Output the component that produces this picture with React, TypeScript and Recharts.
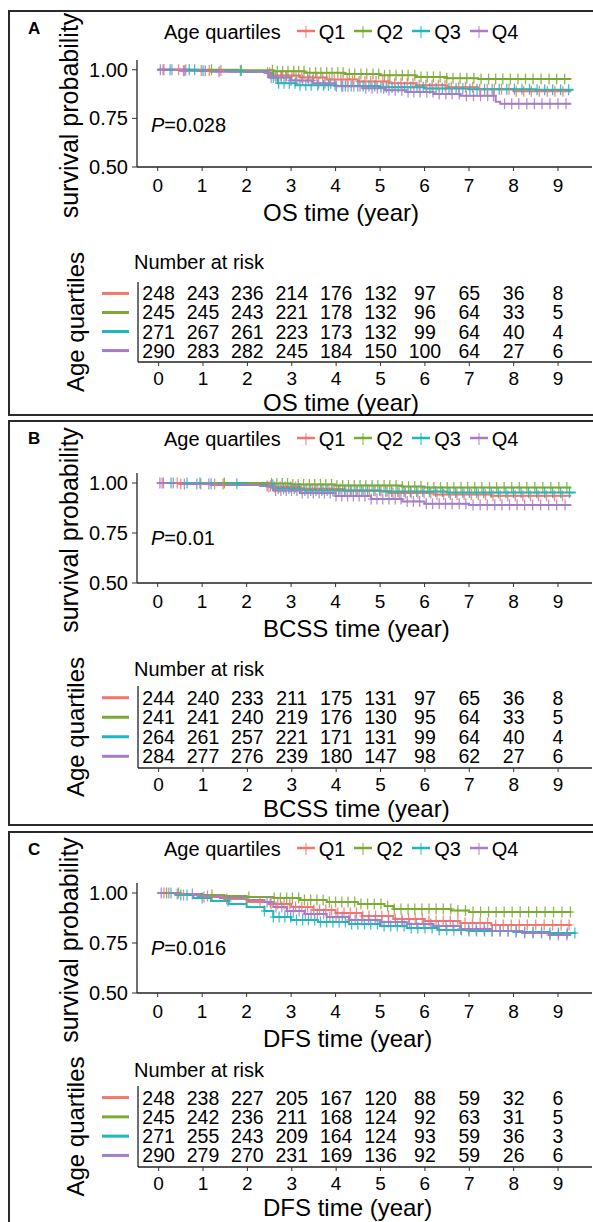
import React from 'react'
import { ComposedChart, Line, Scatter, XAxis, YAxis } from 'recharts'

// Kaplan-Meier curves by age quartile, three endpoints (OS, BCSS, DFS)

const GROUPS = ['Q1', 'Q2', 'Q3', 'Q4']
const COLORS = ['#F3766D', '#7AAA33', '#1DB7BD', '#A67DC6']
const TIME_TICKS = [0, 1, 2, 3, 4, 5, 6, 7, 8, 9]
const SURV_TICKS = [0.5, 0.75, 1]

// ---- OS ----
const OS_Q1_STEPS = [[0, 1], [0.7, 0.996], [1.6, 0.99], [2.45, 0.985], [2.6, 0.97], [3.2, 0.96], [3.8, 0.95], [4.5, 0.94], [5.2, 0.93], [5.8, 0.92], [6.5, 0.91], [7.2, 0.9], [8.0, 0.89], [9.3, 0.89]]
const OS_Q2_STEPS = [[0, 1], [1.8, 0.997], [2.6, 0.992], [3.3, 0.985], [4.2, 0.978], [5.0, 0.971], [5.8, 0.963], [6.5, 0.956], [7.2, 0.952], [9.3, 0.952]]
const OS_Q3_STEPS = [[0, 1], [0.9, 0.995], [1.9, 0.99], [2.5, 0.96], [2.7, 0.93], [3.1, 0.92], [4.0, 0.916], [5.0, 0.91], [6.0, 0.904], [7.0, 0.9], [8.5, 0.897], [9.35, 0.897]]
const OS_Q4_STEPS = [[0, 1], [0.5, 0.995], [1.2, 0.99], [2.4, 0.985], [2.55, 0.96], [3.0, 0.945], [3.5, 0.93], [4.0, 0.915], [4.6, 0.905], [5.1, 0.895], [5.6, 0.885], [6.2, 0.875], [6.8, 0.866], [7.6, 0.835], [7.7, 0.825], [9.3, 0.825]]

const OS_Q1_CENS = [0.12, 0.47, 0.63, 0.98, 1.16, 1.42, 2.52, 2.64, 2.77, 2.9, 3.02, 3.11, 3.24, 3.37, 3.5, 3.58, 3.71, 3.86, 3.97, 4.12, 4.26, 4.38, 4.53, 4.66, 4.79, 4.91, 5.06, 5.18, 5.33, 5.47, 5.61, 5.74, 5.88, 6.03, 6.17, 6.31, 6.46, 6.6, 6.77, 6.92, 7.08, 7.24, 7.41, 7.57, 7.73, 7.9, 8.06, 8.23, 8.4, 8.58, 8.76, 8.93, 9.11]
const OS_Q2_CENS = [1.21, 1.88, 2.58, 2.69, 2.81, 2.93, 3.06, 3.17, 3.29, 3.42, 3.55, 3.67, 3.8, 3.92, 4.05, 4.17, 4.31, 4.43, 4.57, 4.7, 4.84, 4.97, 5.1, 5.22, 5.36, 5.5, 5.63, 5.78, 5.92, 6.06, 6.2, 6.35, 6.5, 6.64, 6.8, 6.95, 7.11, 7.27, 7.44, 7.6, 7.76, 7.93, 8.1, 8.27, 8.44, 8.62, 8.8, 8.97, 9.15]
const OS_Q3_CENS = [0.28, 0.71, 0.83, 1.02, 1.86, 2.6, 2.72, 2.84, 2.96, 3.09, 3.2, 3.33, 3.45, 3.6, 3.73, 3.84, 3.99, 4.14, 4.22, 4.35, 4.5, 4.62, 4.75, 4.88, 5.02, 5.14, 5.27, 5.41, 5.55, 5.69, 5.83, 5.97, 6.12, 6.26, 6.4, 6.55, 6.71, 6.86, 7.02, 7.18, 7.35, 7.52, 7.68, 7.85, 8.02, 8.19, 8.36, 8.53, 8.7, 8.88, 9.06, 9.24]
const OS_Q4_CENS = [0.06, 0.14, 0.32, 0.58, 0.61, 1.07, 1.38, 2.47, 2.55, 2.66, 2.78, 2.88, 3.0, 3.13, 3.26, 3.39, 3.48, 3.62, 3.76, 3.89, 4.02, 4.16, 4.28, 4.41, 4.55, 4.68, 4.82, 4.94, 5.08, 5.2, 5.34, 5.49, 5.63, 5.76, 5.9, 6.05, 6.19, 6.33, 6.48, 6.62, 6.78, 6.94, 7.1, 7.26, 7.42, 7.55, 7.8, 7.96, 8.12, 8.3, 8.47, 8.64, 8.82, 9.0, 9.18]

const OS_RISK_Q1 = [248, 243, 236, 214, 176, 132, 97, 65, 36, 8]
const OS_RISK_Q2 = [245, 245, 243, 221, 178, 132, 96, 64, 33, 5]
const OS_RISK_Q3 = [271, 267, 261, 223, 173, 132, 99, 64, 40, 4]
const OS_RISK_Q4 = [290, 283, 282, 245, 184, 150, 100, 64, 27, 6]

// ---- BCSS ----
const BCSS_Q1_STEPS = [[0, 1], [0.5, 0.995], [1.5, 0.99], [2.5, 0.98], [3.2, 0.97], [4.2, 0.96], [5.2, 0.95], [6.2, 0.942], [7.5, 0.936], [9.3, 0.936]]
const BCSS_Q2_STEPS = [[0, 1], [2.5, 0.998], [3.0, 0.993], [4.0, 0.988], [5.5, 0.982], [6.0, 0.977], [9.3, 0.977]]
const BCSS_Q3_STEPS = [[0, 1], [1.0, 0.996], [2.0, 0.99], [2.6, 0.972], [3.3, 0.963], [5.0, 0.957], [6.5, 0.952], [9.4, 0.952]]
const BCSS_Q4_STEPS = [[0, 1], [0.5, 0.995], [1.2, 0.99], [2.3, 0.985], [2.6, 0.962], [3.2, 0.95], [4.0, 0.935], [4.8, 0.92], [5.5, 0.908], [6.0, 0.896], [7.0, 0.89], [9.3, 0.89]]

const BCSS_Q1_CENS = [0.1, 0.44, 0.52, 0.97, 1.28, 1.47, 2.5, 2.63, 2.75, 2.87, 2.99, 3.1, 3.23, 3.35, 3.48, 3.6, 3.72, 3.85, 3.98, 4.1, 4.23, 4.36, 4.49, 4.62, 4.76, 4.89, 5.02, 5.16, 5.29, 5.43, 5.57, 5.7, 5.85, 5.99, 6.14, 6.28, 6.43, 6.58, 6.73, 6.89, 7.05, 7.21, 7.37, 7.54, 7.7, 7.87, 8.04, 8.21, 8.38, 8.56, 8.74, 8.92, 9.1]
const BCSS_Q2_CENS = [1.5, 2.56, 2.68, 2.8, 2.92, 3.04, 3.16, 3.28, 3.41, 3.53, 3.66, 3.78, 3.91, 4.03, 4.16, 4.29, 4.42, 4.55, 4.68, 4.82, 4.95, 5.09, 5.22, 5.36, 5.5, 5.64, 5.78, 5.92, 6.07, 6.21, 6.36, 6.51, 6.66, 6.82, 6.97, 7.13, 7.29, 7.46, 7.62, 7.79, 7.96, 8.13, 8.3, 8.48, 8.66, 8.84, 9.02, 9.2]
const BCSS_Q3_CENS = [0.3, 0.66, 0.95, 1.2, 1.78, 2.59, 2.71, 2.83, 2.95, 3.07, 3.19, 3.31, 3.44, 3.56, 3.69, 3.81, 3.94, 4.07, 4.2, 4.33, 4.46, 4.59, 4.72, 4.86, 4.99, 5.13, 5.26, 5.4, 5.54, 5.68, 5.82, 5.96, 6.11, 6.25, 6.4, 6.55, 6.7, 6.86, 7.01, 7.17, 7.33, 7.5, 7.66, 7.83, 8.0, 8.17, 8.34, 8.52, 8.7, 8.88, 9.06, 9.26]
const BCSS_Q4_CENS = [0.05, 0.13, 0.35, 0.6, 0.88, 1.15, 2.46, 2.54, 2.65, 2.77, 2.89, 3.01, 3.13, 3.25, 3.38, 3.5, 3.63, 3.75, 3.88, 4.01, 4.14, 4.27, 4.4, 4.53, 4.66, 4.8, 4.93, 5.06, 5.2, 5.34, 5.47, 5.61, 5.75, 5.89, 6.04, 6.18, 6.33, 6.47, 6.62, 6.78, 6.93, 7.09, 7.25, 7.41, 7.58, 7.74, 7.91, 8.08, 8.25, 8.43, 8.61, 8.79, 8.97, 9.16]

const BCSS_RISK_Q1 = [244, 240, 233, 211, 175, 131, 97, 65, 36, 8]
const BCSS_RISK_Q2 = [241, 241, 240, 219, 176, 130, 95, 64, 33, 5]
const BCSS_RISK_Q3 = [264, 261, 257, 221, 171, 131, 99, 64, 40, 4]
const BCSS_RISK_Q4 = [284, 277, 276, 239, 180, 147, 98, 62, 27, 6]

// ---- DFS ----
const DFS_Q1_STEPS = [[0, 1], [0.5, 0.99], [1.0, 0.98], [1.5, 0.97], [2.0, 0.955], [2.5, 0.945], [3.0, 0.93], [3.5, 0.915], [4.0, 0.9], [4.6, 0.885], [5.3, 0.87], [6.0, 0.86], [6.8, 0.85], [7.5, 0.84], [9.3, 0.84]]
const DFS_Q2_STEPS = [[0, 1], [0.5, 0.995], [1.0, 0.99], [1.5, 0.985], [2.0, 0.98], [2.6, 0.975], [3.2, 0.965], [3.8, 0.955], [4.5, 0.945], [5.1, 0.935], [5.3, 0.92], [6.6, 0.912], [7.0, 0.905], [9.3, 0.905]]
const DFS_Q3_STEPS = [[0, 1], [0.4, 0.99], [0.8, 0.975], [1.2, 0.96], [1.6, 0.945], [2.0, 0.93], [2.4, 0.91], [2.6, 0.88], [3.0, 0.865], [3.6, 0.855], [4.3, 0.845], [5.0, 0.835], [5.6, 0.825], [6.3, 0.815], [7.0, 0.81], [8.0, 0.805], [8.8, 0.8], [9.4, 0.8]]
const DFS_Q4_STEPS = [[0, 1], [0.4, 0.995], [0.9, 0.985], [1.4, 0.975], [2.0, 0.965], [2.4, 0.955], [2.6, 0.93], [2.9, 0.91], [3.3, 0.895], [3.8, 0.88], [4.3, 0.865], [5.0, 0.855], [5.6, 0.845], [6.2, 0.835], [6.8, 0.82], [7.5, 0.81], [8.2, 0.8], [8.8, 0.79], [9.3, 0.79]]

const DFS_Q1_CENS = [0.14, 0.58, 1.04, 1.55, 2.3, 2.55, 2.7, 2.84, 2.97, 3.1, 3.24, 3.37, 3.51, 3.64, 3.78, 3.91, 4.05, 4.19, 4.33, 4.47, 4.61, 4.75, 4.9, 5.04, 5.19, 5.34, 5.49, 5.64, 5.79, 5.95, 6.1, 6.26, 6.42, 6.58, 6.75, 6.91, 7.08, 7.25, 7.42, 7.6, 7.77, 7.95, 8.13, 8.31, 8.5, 8.69, 8.88, 9.07, 9.25]
const DFS_Q2_CENS = [0.2, 0.47, 1.22, 2.05, 2.62, 2.76, 2.9, 3.03, 3.17, 3.3, 3.44, 3.58, 3.72, 3.86, 4.0, 4.14, 4.28, 4.43, 4.57, 4.72, 4.87, 5.02, 5.17, 5.32, 5.47, 5.63, 5.78, 5.94, 6.1, 6.26, 6.42, 6.59, 6.75, 6.92, 7.09, 7.26, 7.44, 7.61, 7.79, 7.97, 8.15, 8.34, 8.52, 8.71, 8.9, 9.09, 9.28]
const DFS_Q3_CENS = [0.3, 0.52, 0.66, 1.0, 1.58, 2.4, 2.6, 2.73, 2.86, 2.99, 3.12, 3.26, 3.39, 3.53, 3.66, 3.8, 3.94, 4.08, 4.22, 4.36, 4.5, 4.65, 4.79, 4.94, 5.09, 5.24, 5.39, 5.54, 5.7, 5.85, 6.01, 6.17, 6.33, 6.5, 6.66, 6.83, 7.0, 7.17, 7.35, 7.52, 7.7, 7.88, 8.06, 8.25, 8.44, 8.63, 8.82, 9.01, 9.21, 9.38]
const DFS_Q4_CENS = [0.08, 0.25, 0.44, 0.78, 1.12, 2.46, 2.53, 2.66, 2.79, 2.92, 3.05, 3.18, 3.32, 3.45, 3.59, 3.73, 3.87, 4.01, 4.15, 4.3, 4.44, 4.59, 4.74, 4.89, 5.04, 5.19, 5.35, 5.5, 5.66, 5.82, 5.98, 6.14, 6.31, 6.48, 6.64, 6.81, 6.99, 7.16, 7.34, 7.52, 7.7, 7.88, 8.06, 8.25, 8.44, 8.63, 8.82, 9.01, 9.2]

const DFS_RISK_Q1 = [248, 238, 227, 205, 167, 120, 88, 59, 32, 6]
const DFS_RISK_Q2 = [245, 242, 236, 211, 168, 124, 92, 63, 31, 5]
const DFS_RISK_Q3 = [271, 255, 243, 209, 164, 124, 93, 59, 36, 3]
const DFS_RISK_Q4 = [290, 279, 270, 231, 169, 136, 92, 59, 26, 6]

const PANELS = [
  {
    letter: 'A', xTitle: 'OS time (year)', pValue: '0.028',
    steps: [OS_Q1_STEPS, OS_Q2_STEPS, OS_Q3_STEPS, OS_Q4_STEPS],
    censor: [OS_Q1_CENS, OS_Q2_CENS, OS_Q3_CENS, OS_Q4_CENS],
    risk: [OS_RISK_Q1, OS_RISK_Q2, OS_RISK_Q3, OS_RISK_Q4],
  },
  {
    letter: 'B', xTitle: 'BCSS time (year)', pValue: '0.01',
    steps: [BCSS_Q1_STEPS, BCSS_Q2_STEPS, BCSS_Q3_STEPS, BCSS_Q4_STEPS],
    censor: [BCSS_Q1_CENS, BCSS_Q2_CENS, BCSS_Q3_CENS, BCSS_Q4_CENS],
    risk: [BCSS_RISK_Q1, BCSS_RISK_Q2, BCSS_RISK_Q3, BCSS_RISK_Q4],
  },
  {
    letter: 'C', xTitle: 'DFS time (year)', pValue: '0.016',
    steps: [DFS_Q1_STEPS, DFS_Q2_STEPS, DFS_Q3_STEPS, DFS_Q4_STEPS],
    censor: [DFS_Q1_CENS, DFS_Q2_CENS, DFS_Q3_CENS, DFS_Q4_CENS],
    risk: [DFS_RISK_Q1, DFS_RISK_Q2, DFS_RISK_Q3, DFS_RISK_Q4],
  },
]

// page positions of each panel (px)
const LAYOUTS = [
  { top: 10, height: 406, legendY: 32, plotTop: 60, plotBottom: 167, narY: 262, tableTop: 282, tableBottom: 362 },
  { top: 420, height: 406, legendY: 439, plotTop: 473, plotBottom: 583, narY: 669, tableTop: 686, tableBottom: 768 },
  { top: 831, height: 430, legendY: 849, plotTop: 883, plotBottom: 993, narY: 1070, tableTop: 1086, tableBottom: 1167 },
]

const X_DOMAIN = [-0.465, 9.765]
const Y_DOMAIN = [0.5, 1.05]
const FONT = '"Liberation Sans", Arial, Helvetica, sans-serif'
const TITLE_X = 263

function survAt(steps: number[][], t: number) {
  let s = steps[0][1]
  for (const [tt, ss] of steps) if (tt <= t) s = ss
  return s
}

function CensorMark(props: any) {
  const { cx, cy, color } = props
  if (cx == null || cy == null) return null
  return (
    <g stroke={color} strokeOpacity={0.85} strokeWidth={1.3}>
      <line x1={cx} x2={cx} y1={cy - 5.5} y2={cy + 5.5} />
      <line x1={cx - 3.5} x2={cx + 3.5} y1={cy} y2={cy} />
    </g>
  )
}

function RiskCell(props: any) {
  const { cx, cy, payload } = props
  if (cx == null || cy == null) return null
  return (
    <text x={cx} y={cy} textAnchor="middle" dominantBaseline="central" fontSize={19.5} fill="#000">
      {payload.n}
    </text>
  )
}

function LegendRow({ y }: { y: number }) {
  return (
    <div style={{ position: 'absolute', left: 164, top: y - 12, height: 24, display: 'flex', alignItems: 'center', fontSize: 20, lineHeight: '24px', color: '#000' }}>
      <span style={{ marginRight: 15 }}>Age quartiles</span>
      {GROUPS.map((g, i) => (
        <span key={g} style={{ display: 'flex', alignItems: 'center', marginRight: 8 }}>
          <svg width={20} height={20} style={{ marginRight: 3 }}>
            <line x1={1} x2={19} y1={9} y2={9} stroke={COLORS[i]} strokeWidth={2.5} />
            <line x1={10} x2={10} y1={4} y2={16} stroke={COLORS[i]} strokeWidth={1.2} strokeOpacity={0.8} />
          </svg>
          {g}
        </span>
      ))}
    </div>
  )
}

function KMPlot({ panel, lay }: { panel: any; lay: any }) {
  const chartTop = lay.top + 2
  const height = lay.plotBottom - chartTop + 60
  return (
    <div style={{ position: 'absolute', left: 0, top: chartTop, width: 593, height }}>
      <ComposedChart
        width={593}
        height={height}
        margin={{ top: lay.plotTop - chartTop, right: 1, bottom: 0, left: 0 }}
      >
        <XAxis
          type="number"
          dataKey="t"
          domain={X_DOMAIN}
          ticks={TIME_TICKS}
          interval={0}
          allowDataOverflow
          height={60}
          tickSize={4}
          tickMargin={8}
          tick={{ fontSize: 19, fill: '#000' }}
          axisLine={{ stroke: '#222', strokeWidth: 1.3 }}
          tickLine={{ stroke: '#333' }}
          label={(p: any) => (
            <text x={TITLE_X} y={p.viewBox.y + 45} dominantBaseline="central" fontSize={24} fill="#000">
              {panel.xTitle}
            </text>
          )}
        />
        <YAxis
          type="number"
          dataKey="s"
          domain={Y_DOMAIN}
          ticks={SURV_TICKS}
          interval={0}
          allowDataOverflow
          width={137}
          tickSize={5}
          tickMargin={4}
          tickFormatter={(v: number) => v.toFixed(2)}
          tick={{ fontSize: 20, fill: '#000' }}
          axisLine={{ stroke: '#222', strokeWidth: 1.3 }}
          tickLine={{ stroke: '#333' }}
          label={(p: any) => {
            const cy = p.viewBox.y + p.viewBox.height / 2 + 2
            return (
              <text x={69} y={cy} transform={`rotate(-90, 69, ${cy})`} textAnchor="middle" dominantBaseline="central" fontSize={25} fill="#000">
                survival probability
              </text>
            )
          }}
        />
        {panel.steps.map((st: number[][], i: number) => (
          <Line
            key={'l' + i}
            data={st.map(([t, s]) => ({ t, s }))}
            dataKey="s"
            type="stepAfter"
            stroke={COLORS[i]}
            strokeWidth={2}
            dot={false}
            isAnimationActive={false}
          />
        ))}
        {panel.censor.map((cs: number[], i: number) => (
          <Scatter
            key={'c' + i}
            data={cs.map((t) => ({ t, s: survAt(panel.steps[i], t) }))}
            dataKey="s"
            shape={(p: any) => <CensorMark {...p} color={COLORS[i]} />}
            isAnimationActive={false}
          />
        ))}
      </ComposedChart>
    </div>
  )
}

function RiskTable({ panel, lay }: { panel: any; lay: any }) {
  const chartTop = lay.tableTop - 45
  const height = lay.tableBottom - chartTop + 55
  return (
    <div style={{ position: 'absolute', left: 0, top: chartTop, width: 593, height }}>
      <ComposedChart
        width={593}
        height={height}
        margin={{ top: 45, right: 1, bottom: 0, left: 0 }}
      >
        <XAxis
          type="number"
          dataKey="t"
          domain={X_DOMAIN}
          ticks={TIME_TICKS}
          interval={0}
          allowDataOverflow
          height={55}
          tickSize={4}
          tickMargin={6}
          tick={{ fontSize: 19, fill: '#000' }}
          axisLine={{ stroke: '#222', strokeWidth: 1.3 }}
          tickLine={{ stroke: '#333' }}
          label={(p: any) => (
            <text x={TITLE_X} y={p.viewBox.y + 40} dominantBaseline="central" fontSize={24} fill="#000">
              {panel.xTitle}
            </text>
          )}
        />
        <YAxis
          type="number"
          dataKey="row"
          domain={[0.4, 4.6]}
          ticks={[1, 2, 3, 4]}
          interval={0}
          reversed
          width={138}
          tickLine={false}
          axisLine={{ stroke: '#222', strokeWidth: 1.3 }}
          tick={(p: any) => (
            <line x1={102} x2={129} y1={p.y} y2={p.y} stroke={COLORS[p.payload.value - 1]} strokeWidth={3} />
          )}
          label={(p: any) => {
            const cy = p.viewBox.y + p.viewBox.height / 2
            return (
              <text x={75} y={cy} transform={`rotate(-90, 75, ${cy})`} textAnchor="middle" dominantBaseline="central" fontSize={24} fill="#000">
                Age quartiles
              </text>
            )
          }}
        />
        {panel.risk.map((row: number[], i: number) => (
          <Scatter
            key={'r' + i}
            data={row.map((n, j) => ({ t: TIME_TICKS[j], row: i + 1, n }))}
            dataKey="row"
            shape={(p: any) => <RiskCell {...p} />}
            isAnimationActive={false}
          />
        ))}
      </ComposedChart>
    </div>
  )
}

function Panel({ panel, lay }: { panel: any; lay: any }) {
  const y100 = lay.plotBottom - ((1 - Y_DOMAIN[0]) / (Y_DOMAIN[1] - Y_DOMAIN[0])) * (lay.plotBottom - lay.plotTop)
  return (
    <>
      <div style={{ position: 'absolute', left: 8, top: lay.top, width: 600, height: lay.height, border: '2px solid #2a2a2a', boxSizing: 'border-box' }} />
      <div style={{ position: 'absolute', left: 28, top: lay.top + 9, fontSize: 17, fontWeight: 'bold', lineHeight: '20px' }}>{panel.letter}</div>
      <LegendRow y={lay.legendY} />
      <KMPlot panel={panel} lay={lay} />
      <div style={{ position: 'absolute', left: 151, top: y100 + 55 - 12, fontSize: 20, lineHeight: '24px' }}>
        <i>P</i>={panel.pValue}
      </div>
      <div style={{ position: 'absolute', left: 134, top: lay.narY - 12, fontSize: 20, lineHeight: '24px' }}>Number at risk</div>
      <RiskTable panel={panel} lay={lay} />
    </>
  )
}

export default function App() {
  return (
    <div style={{ position: 'absolute', left: 0, top: 0, width: 593, height: 1222, overflow: 'hidden', background: '#fff', fontFamily: FONT, color: '#000' }}>
      {PANELS.map((p, i) => (
        <Panel key={p.letter} panel={p} lay={LAYOUTS[i]} />
      ))}
    </div>
  )
}
